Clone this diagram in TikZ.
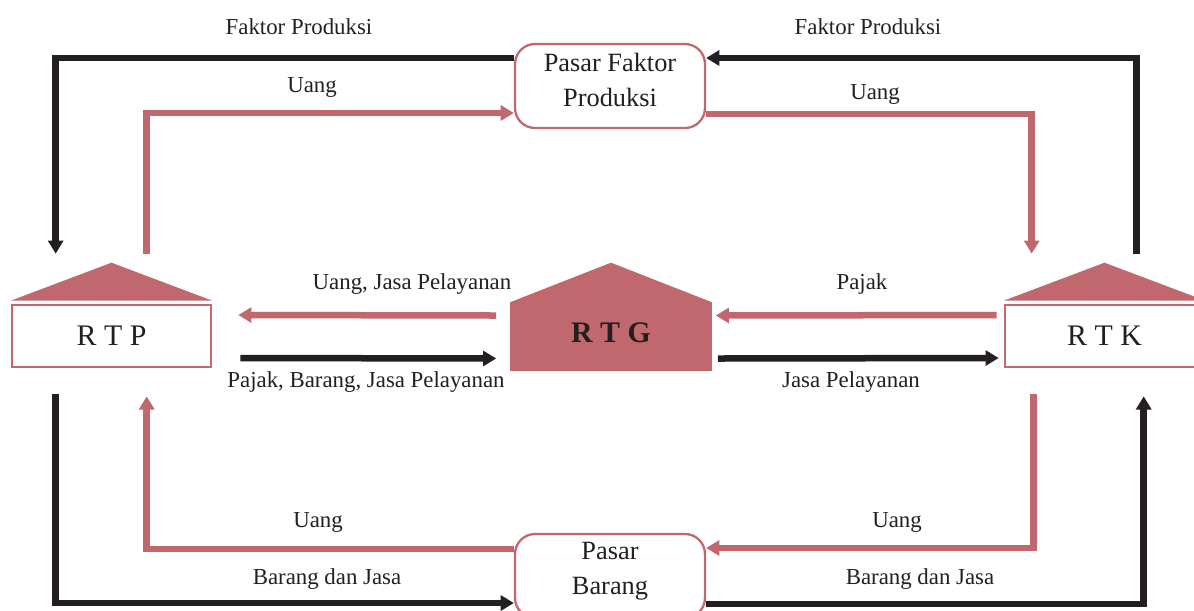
\documentclass[tikz,border=0pt]{standalone}
\usepackage{fontspec}
\setmainfont{Liberation Serif}
\usetikzlibrary{arrows.meta,calc,positioning}
\definecolor{merah}{HTML}{C1686E}
\definecolor{hitam}{HTML}{231F20}

\begin{document}
\begin{tikzpicture}[x=0.02cm,y=-0.02cm,
	panah/.style={line width=3.7pt,-{Triangle[length=7.5pt,width=8.5pt]}},
	hitamArr/.style={panah,draw=hitam},
	merahArr/.style={panah,draw=merah},
	pasar/.style={draw=merah,line width=1.3pt,rounded corners=0.4cm,fill=white,minimum width=3.8cm,minimum height=1.68cm,font=\fontsize{15}{20}\selectfont,text=hitam},
	rumah/.style={draw=merah,line width=1.5pt,minimum width=3.98cm,minimum height=1.24cm,font=\fontsize{17}{20}\selectfont,text=hitam},
	ket/.style={font=\fontsize{13}{15}\selectfont,text=hitam}]
	\useasboundingbox (0,0) rectangle (1194,610);

	% Pasar
	\node[pasar] (pfp) at (610,86) {\raisebox{2.5pt}[\height][\depth]{\begin{tabular}{@{}c@{}}Pasar Faktor\\Produksi\end{tabular}}};
	\node[pasar] (pb) at (610,576) {\raisebox{3.4pt}[\height][\depth]{\begin{tabular}{@{}c@{}}Pasar\\Barang\end{tabular}}};

	% Rumah tangga
	\node[rumah] (rtp) at (111.5,336) {R T P};
	\node[rumah] (rtk) at (1104.5,336) {R T K};
	\node[rumah,fill=merah,minimum height=1.34cm,font=\fontsize{17}{20}\selectfont\bfseries] (rtg) at (611,336.5) {\raisebox{4pt}{R T G}};

	% Atap
	\fill[merah] ($(rtp.north west)+(0,-3)$) -- ($(rtp.north)+(0,-41)$) -- ($(rtp.north east)+(0,-3)$) -- cycle;
	\fill[merah] ($(rtk.north west)+(0,-3)$) -- ($(rtk.north)+(0,-41)$) -- ($(rtk.north east)+(0,-3)$) -- cycle;
	\fill[merah] ($(rtg.north west)+(0,0.5)$) -- ($(rtg.north)+(0,-39)$) -- ($(rtg.north east)+(0,0.5)$) -- cycle;

	% Ujung bebas
	\coordinate (rtpA) at ($(rtp.north west)+(45,-50)$);
	\coordinate (rtpB) at ($(rtp.north west)+(136,-50)$);
	\coordinate (rtpC) at ($(rtp.south west)+(45,26)$);
	\coordinate (rtpD) at ($(rtp.south west)+(136,28)$);
	\coordinate (rtkA) at ($(rtk.north west)+(28,-50)$);
	\coordinate (rtkB) at ($(rtk.north west)+(133,-50)$);
	\coordinate (rtkC) at ($(rtk.south west)+(30,26)$);
	\coordinate (rtkD) at ($(rtk.south west)+(140,28)$);

	% Atas
	\draw[hitamArr] ($(pfp.west)+(0,-28)$) -| (rtpA);
	\draw[merahArr] (rtpB) |- ($(pfp.west)+(0,27)$);
	\draw[hitamArr] (rtkB) |- ($(pfp.east)+(0,-28)$);
	\draw[merahArr] ($(pfp.east)+(0,28)$) -| (rtkA);

	% Tengah
	\draw[merahArr] ($(rtg.west)+(-14,-21)$) -- ($(rtp.east)+(26,-21)$);
	\draw[hitamArr] ($(rtp.east)+(28,22)$) -- ($(rtg.west)+(-14,22)$);
	\draw[merahArr] ($(rtk.west)+(-7,-21)$) -- ($(rtg.east)+(4,-21)$);
	\draw[hitamArr] ($(rtg.east)+(6,22)$) -- ($(rtk.west)+(-5,22)$);

	% Bawah
	\draw[hitamArr] (rtpC) |- ($(pb.west)+(0,27)$);
	\draw[merahArr] ($(pb.west)+(0,-27)$) -| (rtpD);
	\draw[merahArr] (rtkC) |- ($(pb.east)+(0,-28)$);
	\draw[hitamArr] ($(pb.east)+(0,28)$) -| (rtkD);

	% Keterangan
	\node[ket] (fpKiri) at (299,27) {Faktor Produksi};
	\node[ket] (fpKanan) at (868,27) {Faktor Produksi};
	\node[ket] (uangA) at (312,87) {Uang};
	\node[ket] (uangB) at (875,94) {Uang};
	\node[ket] (ujp) at (412,284) {Uang, Jasa Pelayanan};
	\node[ket] (pajak) at (862,284) {Pajak};
	\node[ket] (pbj) at (366,382) {Pajak, Barang, Jasa Pelayanan};
	\node[ket] (jp) at (851,382) {Jasa Pelayanan};
	\node[ket] (uangC) at (318,522) {Uang};
	\node[ket] (uangD) at (897,522) {Uang};
	\node[ket] (bjKiri) at (327,579) {Barang dan Jasa};
	\node[ket] (bjKanan) at (920,579) {Barang dan Jasa};
\end{tikzpicture}
\end{document}
